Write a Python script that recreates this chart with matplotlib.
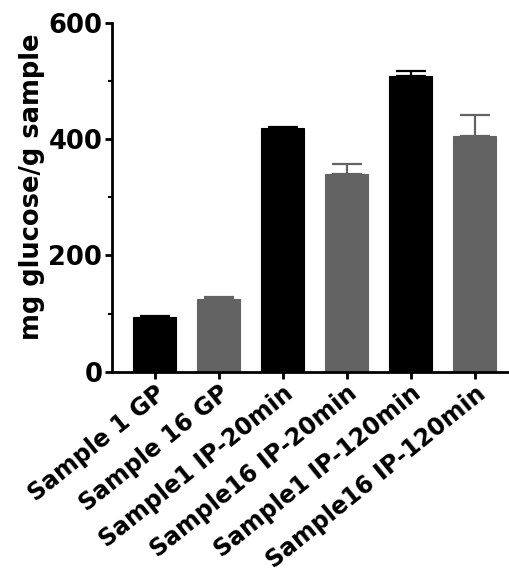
import numpy as np
import matplotlib.pyplot as plt
from matplotlib.ticker import MultipleLocator

samples = ['Sample 1 GP', 'Sample 16 GP', 'Sample1 IP-20min',
           'Sample16 IP-20min', 'Sample1 IP-120min', 'Sample16 IP-120min']
glucose = [94, 125, 419, 340, 510, 405]
glucose_err = [2, 3, 2, 18, 8, 37]
colors = ['#000000', '#636363', '#000000', '#636363', '#000000', '#636363']

plt.rcParams['font.family'] = ['DejaVu Sans']
plt.rcParams['font.weight'] = 'bold'

fig = plt.figure(figsize=(5.1, 5.77), dpi=100)
ax = fig.add_axes([0.2196, 0.356, 0.7804, 0.6037])

x = np.arange(len(samples))
for i in range(len(samples)):
    ax.bar(x[i], glucose[i], width=0.67, color=colors[i], edgecolor=colors[i],
           linewidth=0.8, zorder=2)
    # upper error bar only
    ax.errorbar(x[i], glucose[i], yerr=[[0], [glucose_err[i]]], color=colors[i],
                capsize=10.5, capthick=1.6, elinewidth=1.6, zorder=1)

ax.set_xlim(-0.67, 5.55)
ax.set_ylim(0, 600)
ax.yaxis.set_major_locator(MultipleLocator(200))
ax.yaxis.set_minor_locator(MultipleLocator(100))

ax.spines['top'].set_visible(False)
ax.spines['right'].set_visible(False)
ax.spines['left'].set_linewidth(2)
ax.spines['bottom'].set_linewidth(2)

ax.tick_params(axis='y', which='major', length=5, width=2, labelsize=18.5, pad=2)
ax.tick_params(axis='y', which='minor', length=3, width=1.5)
ax.tick_params(axis='x', length=5, width=2, labelsize=17, pad=2)

ax.set_xticks(x)
ax.set_xticklabels(samples, rotation=39, ha='right', va='top',
                   rotation_mode='anchor', fontweight='bold')
for lbl in ax.get_yticklabels():
    lbl.set_fontweight('bold')

ax.set_ylabel('mg glucose/g sample', fontsize=18.5, fontweight='bold')
ax.yaxis.set_label_coords(-0.168, 0.53)

fig.savefig('out.png', dpi=100)
